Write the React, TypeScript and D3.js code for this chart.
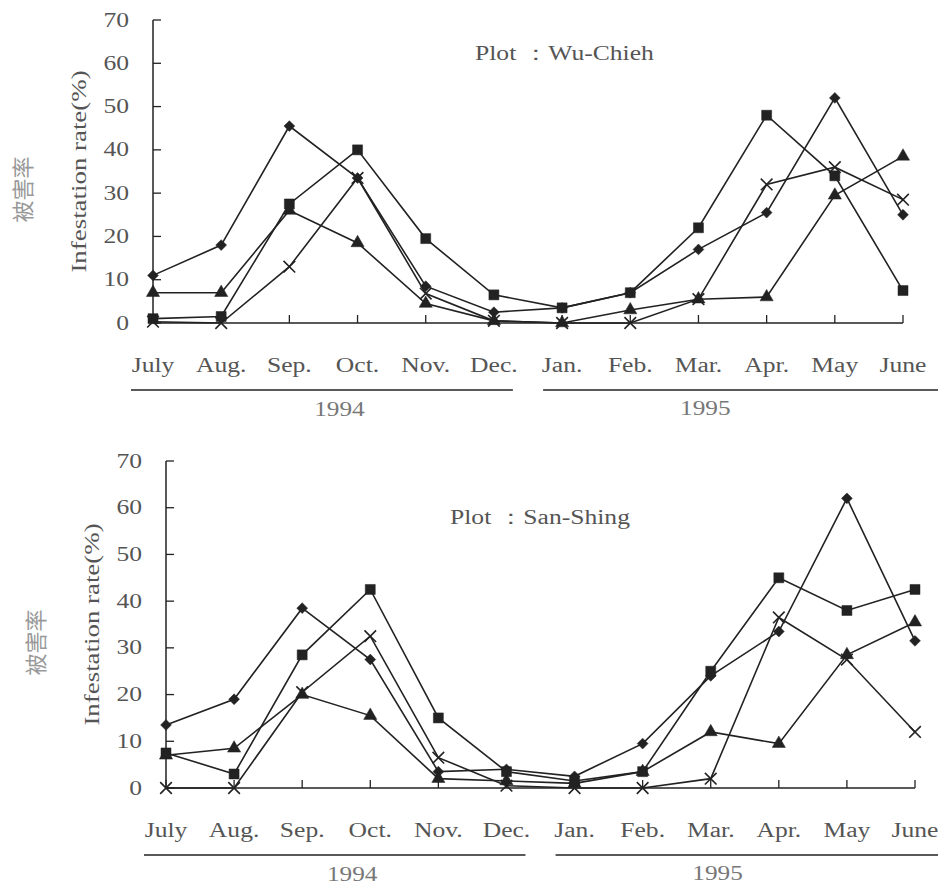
import * as d3 from 'd3';

const months = ['July', 'Aug.', 'Sep.', 'Oct.', 'Nov.', 'Dec.', 'Jan.', 'Feb.', 'Mar.', 'Apr.', 'May', 'June'];
const yTicks = [0, 10, 20, 30, 40, 50, 60, 70];
const years = ['1994', '1995'];

// Plot: Wu-Chieh
const wuChiehDiamond = [11, 18, 45.5, 33.5, 8.5, 2.5, 3.5, 7, 17, 25.5, 52, 25];
const wuChiehSquare = [1, 1.5, 27.5, 40, 19.5, 6.5, 3.5, 7, 22, 48, 34, 7.5];
const wuChiehTriangle = [7, 7, 26, 18.5, 4.5, 0.5, 0, 3, 5.5, 6, 29.5, 38.5];
const wuChiehCross = [0.3, 0, 13, 33.5, 6.8, 0.5, 0, 0, 5.5, 32, 36, 28.5];

// Plot: San-Shing
const sanShingDiamond = [13.5, 19, 38.5, 27.5, 3.5, 4, 2.5, 9.5, 24, 33.5, 62, 31.5];
const sanShingSquare = [7.5, 3, 28.5, 42.5, 15, 3.5, 1.5, 3.5, 25, 45, 38, 42.5];
const sanShingTriangle = [7, 8.5, 20, 15.5, 2, 1.5, 1, 3.5, 12, 9.5, 28.5, 35.5];
const sanShingCross = [0, 0, 20.5, 32.5, 6.5, 0.5, 0, 0, 2, 36.5, 27.5, 12];

const FONT = '"Liberation Serif", "Times New Roman", serif';
const INK = '#222';
const TEXT = '#555';
const SX = 1.28; // scanned type is wide

type PanelProps = {
  title: string;
  titleX: number;
  titleY: number;
  x0: number;
  x1: number;
  yTop: number;
  yBottom: number;
  series: { values: number[]; mark: 'diamond' | 'square' | 'triangle' | 'cross' }[];
};

const symbolPath = {
  diamond: d3.symbol().type(d3.symbolDiamond2).size(75)(),
  square: d3.symbol().type(d3.symbolSquare).size(100)(),
  triangle: d3.symbol().type(d3.symbolTriangle).size(75)(),
  cross: d3.symbol().type(d3.symbolX).size(90)(),
};

const Panel = ({ title, titleX, titleY, x0, x1, yTop, yBottom, series }: PanelProps) => {
  const x = d3.scalePoint<string>().domain(months).range([x0, x1]);
  const y = d3.scaleLinear().domain([0, 70]).range([yBottom, yTop]);
  const line = d3.line<number>()
    .x((_, i) => x(months[i]) as number)
    .y(d => y(d));

  const xs = (i: number) => x(months[i]) as number;
  const step = x.step();
  const yMid = (yTop + yBottom) / 2;
  const yearLineY = yBottom + 67;

  return (
    <g>
      {/* axes */}
      <line x1={x0} x2={x0} y1={yTop} y2={yBottom} stroke={INK} strokeWidth={1.5} />
      <line x1={x0} x2={x1} y1={yBottom} y2={yBottom} stroke={INK} strokeWidth={1.5} />
      {yTicks.map(t => (
        <g key={t}>
          <line x1={x0} x2={x0 + 8} y1={y(t)} y2={y(t)} stroke={INK} strokeWidth={1.3} />
          <text
            transform={`translate(${x0 - 24},${y(t)}) scale(${SX},1)`}
            textAnchor="end"
            dominantBaseline="central"
            fontSize={20}
            fill={TEXT}
            fontFamily={FONT}
          >{t}</text>
        </g>
      ))}
      {months.map((m, i) => (
        <g key={m}>
          <line x1={xs(i)} x2={xs(i)} y1={yBottom} y2={yBottom - 8} stroke={INK} strokeWidth={1.3} />
          <text
            transform={`translate(${xs(i)},${yBottom + 49}) scale(${SX},1)`}
            textAnchor="middle"
            fontSize={20}
            fill={TEXT}
            fontFamily={FONT}
          >{m}</text>
        </g>
      ))}

      {/* year brackets */}
      <line x1={xs(0) - 22} x2={xs(5) + 19} y1={yearLineY} y2={yearLineY} stroke={INK} strokeWidth={1.3} />
      <line x1={xs(6) - 19} x2={938} y1={yearLineY} y2={yearLineY} stroke={INK} strokeWidth={1.3} />
      <text
        transform={`translate(${xs(0) + step * 2.5 + 16},${yBottom + 93}) scale(1.15,1)`}
        textAnchor="middle" fontSize={22} fill="#777" fontFamily={FONT}
      >{years[0]}</text>
      <text
        transform={`translate(${xs(0) + step * 8.1},${yBottom + 92}) scale(1.15,1)`}
        textAnchor="middle" fontSize={22} fill="#777" fontFamily={FONT}
      >{years[1]}</text>

      {/* axis titles */}
      <text
        transform={`translate(${x0 - 74},${yMid}) rotate(-90) scale(${SX},1)`}
        textAnchor="middle"
        dominantBaseline="central"
        fontSize={21}
        fill={TEXT}
        fontFamily={FONT}
      >Infestation rate(%)</text>
      <text
        transform={`translate(${x0 - 132},${yMid + 18}) rotate(-90)`}
        textAnchor="middle"
        dominantBaseline="central"
        fontSize={22}
        fill="#999"
        fontFamily='"Noto Sans CJK TC", "Noto Sans CJK SC", sans-serif'
      >被害率</text>

      {/* plot name */}
      <text
        transform={`translate(${titleX},${titleY}) scale(${SX},1)`}
        fontSize={20}
        fill={TEXT}
        fontFamily={FONT}
      >{title}</text>

      {/* series */}
      {series.map((s, k) => (
        <g key={k}>
          <path d={line(s.values) ?? ''} fill="none" stroke={INK} strokeWidth={1.6} />
          {s.values.map((v, i) => (
            <path
              key={i}
              d={symbolPath[s.mark] ?? ''}
              transform={`translate(${xs(i)},${y(v)})`}
              fill={s.mark === 'cross' ? 'none' : INK}
              stroke={INK}
              strokeWidth={s.mark === 'cross' ? 1.6 : 0.5}
            />
          ))}
        </g>
      ))}
    </g>
  );
};

export default function App() {
  return (
    <svg
      width={938}
      height={891}
      style={{ position: 'absolute', left: 0, top: 0, background: '#fff' }}
    >
      <Panel
        title="Plot ：Wu-Chieh"
        titleX={475}
        titleY={60}
        x0={153}
        x1={903}
        yTop={20}
        yBottom={323}
        series={[
          { values: wuChiehDiamond, mark: 'diamond' },
          { values: wuChiehSquare, mark: 'square' },
          { values: wuChiehTriangle, mark: 'triangle' },
          { values: wuChiehCross, mark: 'cross' },
        ]}
      />
      <Panel
        title="Plot ：San-Shing"
        titleX={450}
        titleY={524}
        x0={166}
        x1={915}
        yTop={461}
        yBottom={788}
        series={[
          { values: sanShingDiamond, mark: 'diamond' },
          { values: sanShingSquare, mark: 'square' },
          { values: sanShingTriangle, mark: 'triangle' },
          { values: sanShingCross, mark: 'cross' },
        ]}
      />
    </svg>
  );
}
